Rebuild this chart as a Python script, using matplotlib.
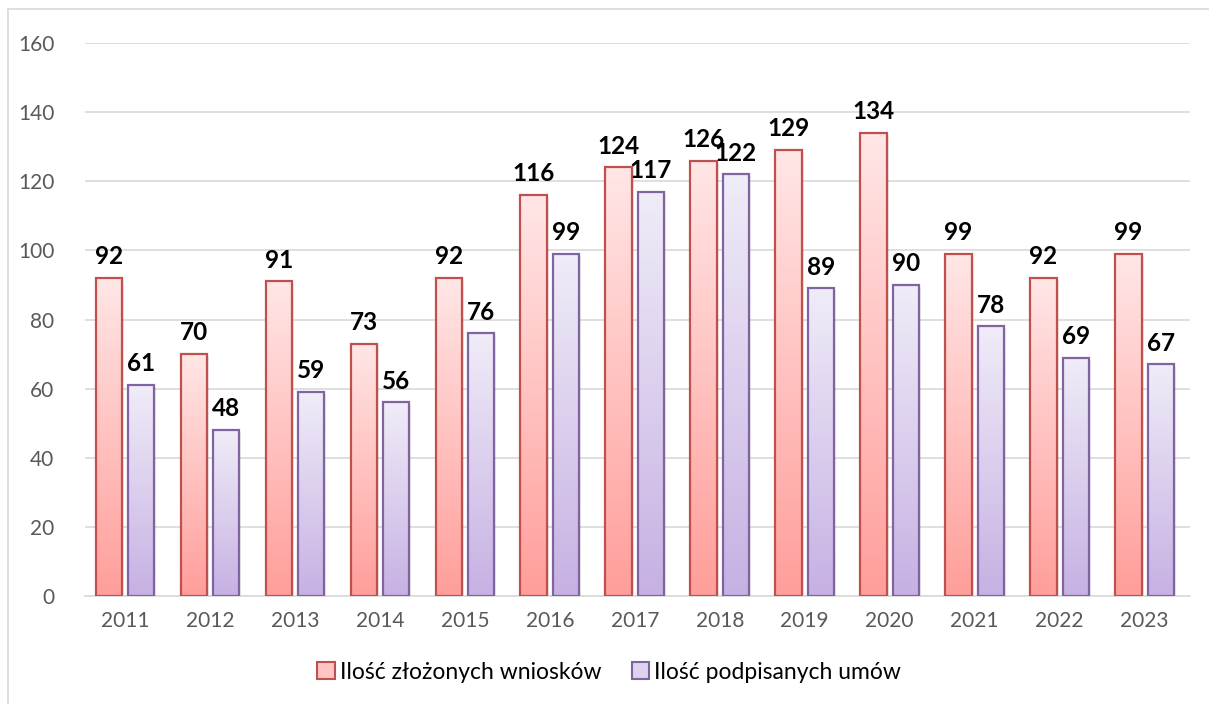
import numpy as np
import matplotlib.pyplot as plt
from matplotlib.colors import LinearSegmentedColormap
from matplotlib.patches import Rectangle
from matplotlib.lines import Line2D

plt.rcParams['font.family'] = ['Lato', 'DejaVu Sans']

years = ['2011', '2012', '2013', '2014', '2015', '2016', '2017',
         '2018', '2019', '2020', '2021', '2022', '2023']
wnioski = [92, 70, 91, 73, 92, 116, 124, 126, 129, 134, 99, 92, 99]
umowy = [61, 48, 59, 56, 76, 99, 117, 122, 89, 90, 78, 69, 67]
labels = ['Ilość złożonych wniosków', 'Ilość podpisanych umów']

red_cmap = LinearSegmentedColormap.from_list('r', ['#FF9E9A', '#FFE6E6'])
pur_cmap = LinearSegmentedColormap.from_list('p', ['#C6B1E3', '#F0ECF8'])
red_edge = '#C0504D'
pur_edge = '#8064A2'

fig = plt.figure(figsize=(12.09, 7.04), dpi=100)
ax = fig.add_axes([0.0703, 0.1534, 0.9137, 0.7855])

x = np.arange(len(years))
w = 0.31
off = 0.19
grad = np.linspace(0, 1, 256).reshape(-1, 1)

def gradient_bars(xs, vals, cmap, edge):
    for xi, v in zip(xs, vals):
        ax.imshow(grad, cmap=cmap, origin='lower', aspect='auto',
                  extent=[xi - w / 2, xi + w / 2, 0, v], zorder=2)
        # faint shadow
        ax.add_patch(Rectangle((xi - w / 2 + 0.025, 0), w, v - 0.6,
                               facecolor='#000000', alpha=0.08,
                               edgecolor='none', zorder=1.5))
    ax.bar(xs, vals, width=w, facecolor='none', edgecolor=edge,
           linewidth=1.6, zorder=3)
    for xi, v in zip(xs, vals):
        ax.annotate(str(v), (xi, v), xytext=(0, 7), textcoords='offset points',
                    ha='center', va='bottom', fontsize=17.5, fontweight='bold',
                    color='black', zorder=4)

gradient_bars(x - off, wnioski, red_cmap, red_edge)
gradient_bars(x + off, umowy, pur_cmap, pur_edge)

ax.set_xlim(-0.47, 12.53)
ax.set_ylim(0, 160)
ax.set_yticks(np.arange(0, 161, 20))
ax.set_xticks(x)
ax.set_xticklabels(years)
ax.yaxis.grid(True, color='#D9D9D9', linewidth=1.2, zorder=0)
ax.set_axisbelow(True)
for s in ['top', 'right', 'left']:
    ax.spines[s].set_visible(False)
ax.spines['bottom'].set_color('#D9D9D9')
ax.spines['bottom'].set_linewidth(1.2)
ax.tick_params(length=0, labelsize=15, labelcolor='#595959')
ax.tick_params(axis='x', pad=11)
ax.tick_params(axis='y', pad=22)

handles = [Rectangle((0, 0), 1, 1, facecolor='#FFC4C4', edgecolor=red_edge, linewidth=1.5),
           Rectangle((0, 0), 1, 1, facecolor='#DDD2EF', edgecolor=pur_edge, linewidth=1.5)]
fig.legend(handles, labels, loc='center', bbox_to_anchor=(0.504, 0.045), ncol=2,
           frameon=False, fontsize=16.5, handlelength=0.75, handleheight=0.75,
           handletextpad=0.25, columnspacing=1.3, labelcolor='black')

# outer chart frame
fig.add_artist(Line2D([8 / 1209, 8 / 1209], [0, 1 - 9 / 704], transform=fig.transFigure,
                      color='#D9D9D9', linewidth=1.2))
fig.add_artist(Line2D([8 / 1209, 1], [1 - 9 / 704, 1 - 9 / 704], transform=fig.transFigure,
                      color='#D9D9D9', linewidth=1.2))

fig.savefig('out.png', dpi=100)
